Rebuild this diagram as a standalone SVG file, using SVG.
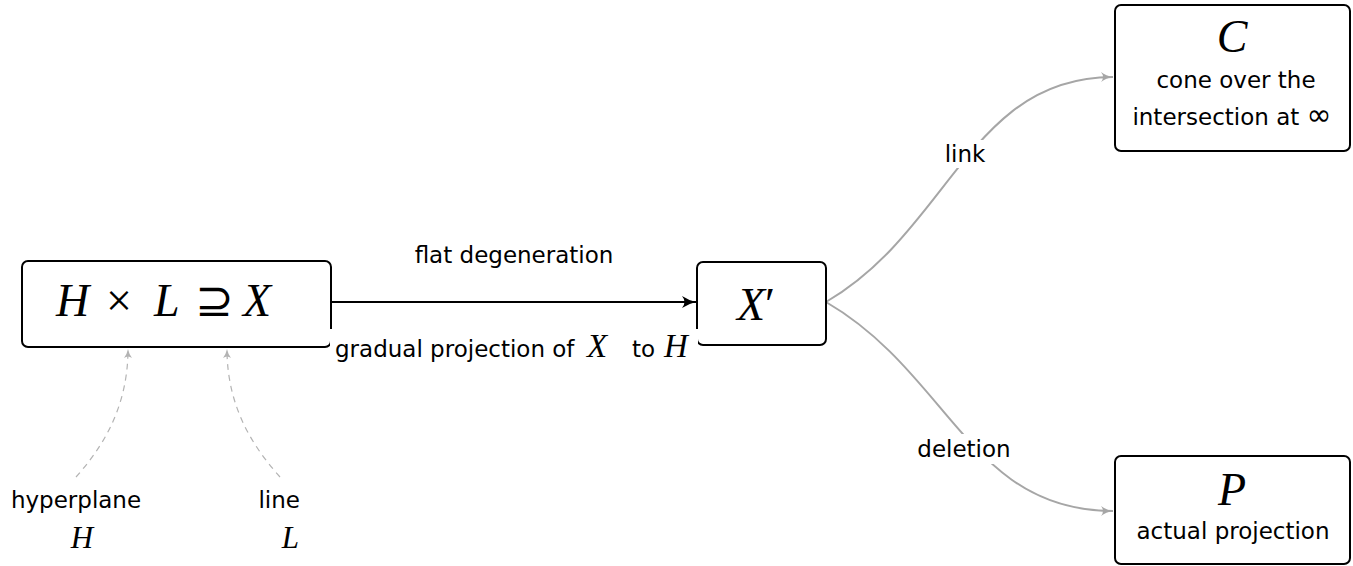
<svg xmlns="http://www.w3.org/2000/svg" width="1353" height="566" viewBox="0 0 1353 566">
<style>
.box{fill:#fff;stroke:#000;stroke-width:2}
.t{font-family:"DejaVu Sans",sans-serif;font-size:23px;fill:#000}
.m{font-family:"Liberation Serif",serif;font-style:italic;fill:#000}
.u{font-style:normal}
.gray{fill:none;stroke:#a6a6a6;stroke-width:2}
.dash{fill:none;stroke:#b3b3b3;stroke-width:1.2;stroke-dasharray:6 5}
.blk{fill:none;stroke:#000;stroke-width:2}
</style>
<defs>
<marker id="ab" markerWidth="18" markerHeight="14" refX="15" refY="7" orient="auto" markerUnits="userSpaceOnUse">
<path d="M1,1 Q8,5.5 15,7 Q8,8.5 1,13 Q6,7 1,1 Z" fill="#000"/>
</marker>
<marker id="ag" markerWidth="16" markerHeight="12" refX="13" refY="6" orient="auto" markerUnits="userSpaceOnUse">
<path d="M1,1 Q6,5 13,6 Q6,7 1,11 Q5,6 1,1 Z" fill="#a6a6a6"/>
</marker>
<marker id="ad" markerWidth="12" markerHeight="10" refX="10" refY="5" orient="auto" markerUnits="userSpaceOnUse">
<path d="M1,1 Q5,4 10,5 Q5,6 1,9 Q4,5 1,1 Z" fill="#b3b3b3"/>
</marker>
</defs>

<g id="connectors">
<path class="blk" d="M331,302 L696,302" marker-end="url(#ab)"/>
<path class="gray" d="M826,302 C950,230 970,77 1113,77" marker-end="url(#ag)"/>
<path class="gray" d="M826,302 C950,374 970,511 1113,511" marker-end="url(#ag)"/>
<path class="dash" d="M76,477 C100,450 128,410 128,349" marker-end="url(#ad)"/>
<path class="dash" d="M280,477 C256,450 227,410 227,349" marker-end="url(#ad)"/>
</g>

<g id="node-HLX">
<rect class="box" x="22" y="261" width="309" height="86" rx="6"/>
<text class="m" y="316" font-size="46"><tspan x="56">H</tspan><tspan class="u" x="106">×</tspan><tspan x="154">L</tspan><tspan class="u" x="195">⊇</tspan><tspan x="243">X</tspan></text>
</g>

<g id="node-Xp">
<rect class="box" x="697" y="262" width="129" height="83" rx="6"/>
<text class="m" x="756" y="320" font-size="46" text-anchor="middle">X<tspan class="u">′</tspan></text>
</g>

<g id="node-C">
<rect class="box" x="1115" y="5" width="235" height="146" rx="6"/>
<text class="m" x="1232" y="52" font-size="46" text-anchor="middle">C</text>
<text class="t" x="1236" y="88" text-anchor="middle">cone over the</text>
<text class="t" x="1232" y="125" text-anchor="middle">intersection at <tspan font-family="DejaVu Sans" font-size="30">∞</tspan></text>
</g>

<g id="node-P">
<rect class="box" x="1115" y="456" width="235" height="108" rx="6"/>
<text class="m" x="1232" y="505" font-size="46" text-anchor="middle">P</text>
<text class="t" x="1233" y="539" text-anchor="middle">actual projection</text>
</g>

<g id="label-flat">
<text class="t" x="514" y="263" text-anchor="middle">flat degeneration</text>
</g>

<g id="label-gradual">
<rect x="330" y="329" width="368" height="40" fill="#fff"/>
<text class="t" y="357"><tspan x="335">gradual projection of</tspan><tspan class="m" x="587" font-size="33">X</tspan><tspan x="632">to</tspan><tspan class="m" x="664" font-size="33">H</tspan></text>
</g>

<g id="label-link">
<rect x="942" y="140" width="46" height="28" fill="#fff"/>
<text class="t" x="965" y="162" text-anchor="middle">link</text>
</g>

<g id="label-deletion">
<rect x="915" y="434" width="98" height="30" fill="#fff"/>
<text class="t" x="964" y="457" text-anchor="middle">deletion</text>
</g>

<g id="node-hyperplane">
<text class="t" x="76" y="508" text-anchor="middle">hyperplane</text>
<text class="m" x="82" y="548" font-size="31" text-anchor="middle">H</text>
</g>

<g id="node-line">
<text class="t" x="300" y="508" text-anchor="end">line</text>
<text class="m" x="299" y="548" font-size="31" text-anchor="end">L</text>
</g>
</svg>
